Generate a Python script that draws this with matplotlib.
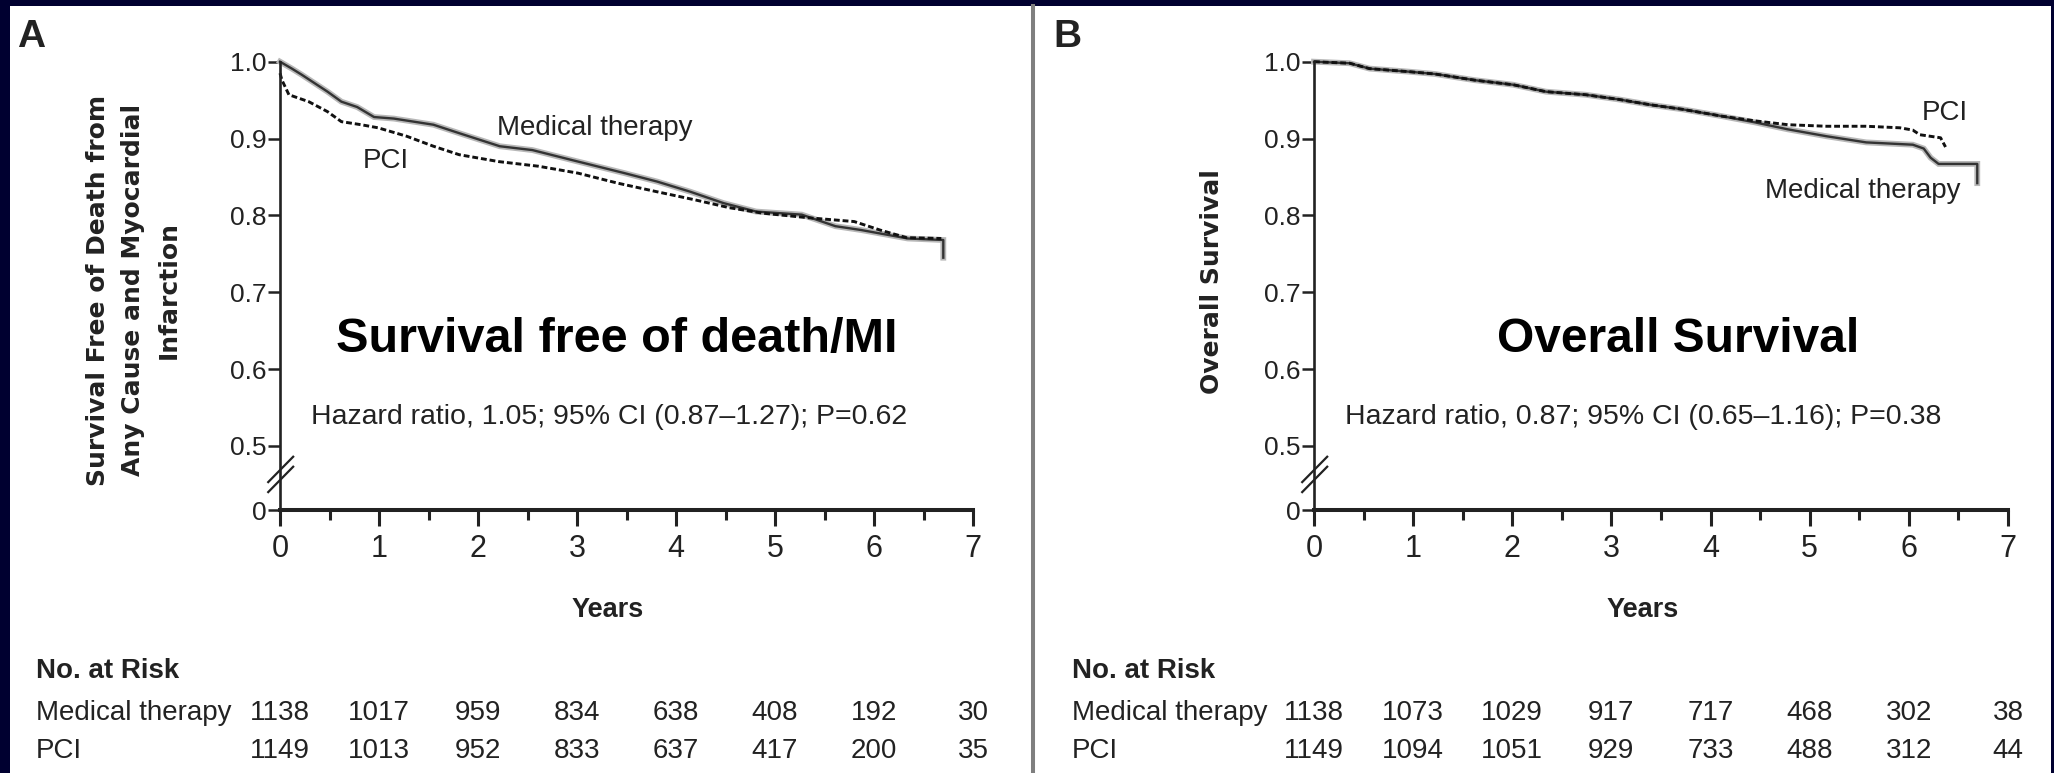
import matplotlib
matplotlib.use('Agg')
import matplotlib.pyplot as plt
import matplotlib.transforms as mtrans
from matplotlib.patches import Rectangle
from matplotlib.lines import Line2D

W, H = 2054, 773
TXT = '#222222'
SANS = ['Liberation Sans', 'DejaVu Sans']

# years on x axis
years = [0, 1, 2, 3, 4, 5, 6, 7]

# Panel A - survival free of death / MI
a_med_t = [0, 0.12, 0.22, 0.35, 0.48, 0.62, 0.78, 0.95, 1.15, 1.35, 1.55, 1.81, 2.22, 2.55,
           2.95, 3.48, 3.81, 4.14, 4.48, 4.81, 5.27, 5.61, 5.87, 6.34, 6.70, 6.70]
a_med_s = [1.0, 0.991, 0.983, 0.972, 0.961, 0.948, 0.941, 0.928, 0.926, 0.922, 0.918, 0.907, 0.890, 0.885,
           0.872, 0.855, 0.844, 0.831, 0.816, 0.805, 0.801, 0.786, 0.781, 0.770, 0.768, 0.745]
a_pci_t = [0, 0.02, 0.09, 0.29, 0.48, 0.62, 0.82, 0.99, 1.28, 1.55, 1.81, 2.21, 2.61, 3.01,
           3.41, 3.80, 4.20, 4.54, 4.87, 5.33, 5.80, 6.06, 6.33, 6.68]
a_pci_s = [0.985, 0.976, 0.957, 0.948, 0.935, 0.922, 0.918, 0.914, 0.903, 0.890, 0.879, 0.870, 0.864, 0.855,
           0.842, 0.831, 0.820, 0.810, 0.803, 0.797, 0.792, 0.781, 0.771, 0.770]

# Panel B - overall survival
b_med_t = [0, 0.36, 0.56, 0.96, 1.22, 1.62, 2.01, 2.34, 2.74, 3.07, 3.39, 3.72, 4.12, 4.45,
           4.78, 5.17, 5.57, 6.04, 6.15, 6.22, 6.30, 6.69, 6.69]
b_med_s = [1.0, 0.998, 0.991, 0.987, 0.984, 0.976, 0.970, 0.961, 0.957, 0.951, 0.944, 0.938, 0.929, 0.921,
           0.912, 0.903, 0.895, 0.892, 0.887, 0.875, 0.867, 0.867, 0.842]
b_pci_t = [0, 0.36, 0.56, 0.96, 1.22, 1.62, 2.01, 2.34, 2.74, 3.07, 3.39, 3.72, 4.12, 4.45,
           4.78, 5.17, 5.57, 5.91, 6.04, 6.11, 6.32, 6.37]
b_pci_s = [1.0, 0.998, 0.991, 0.987, 0.984, 0.976, 0.970, 0.961, 0.957, 0.951, 0.944, 0.938, 0.929, 0.923,
           0.918, 0.916, 0.916, 0.914, 0.911, 0.905, 0.901, 0.889]

# numbers at risk
risk_a_med = [1138, 1017, 959, 834, 638, 408, 192, 30]
risk_a_pci = [1149, 1013, 952, 833, 637, 417, 200, 35]
risk_b_med = [1138, 1073, 1029, 917, 717, 468, 302, 38]
risk_b_pci = [1149, 1094, 1051, 929, 733, 488, 312, 44]

y_ticks = [0.5, 0.6, 0.7, 0.8, 0.9, 1.0]
Y_ZERO = 0.4167   # where the "0" sits below the axis break


def fy(y):
    return 1 - y / H


fig = plt.figure(figsize=(W / 100, H / 100), dpi=100)
fig.patch.set_facecolor('#000030')
fig.patches.append(Rectangle((10 / W, 0), (2051 - 10) / W, 1 - 6 / H, transform=fig.transFigure,
                             facecolor='white', edgecolor='none', zorder=-5))
fig.add_artist(Line2D([1033 / W, 1033 / W], [0, 1 - 6 / H], transform=fig.transFigure,
                      color='#7f7f7f', lw=2.9, zorder=-4))


def panel(left_px, right_px, med_t, med_s, pci_t, pci_s, risk_med, risk_pci,
          letter, letter_x, ylabel, ylab_x, ylab_y, title, title_x, hazard,
          med_lab, pci_lab, table_x):
    ax = fig.add_axes([left_px / W, fy(510), (right_px - left_px) / W, (510 - 61.7) / H])
    ax.set_facecolor('none')
    ax.set_xlim(0, 7)
    ax.set_ylim(Y_ZERO, 1.0)

    ax.plot(med_t, med_s, color='#b8b8b8', lw=4.2, clip_on=False, solid_joinstyle='miter')
    ax.plot(med_t, med_s, color='#333333', lw=1.7, clip_on=False)
    ax.plot(pci_t, pci_s, color='#111111', lw=2.1, ls=(0, (2.0, 1.0)), clip_on=False)

    for s in ['top', 'right']:
        ax.spines[s].set_visible(False)
    ax.spines['left'].set_linewidth(1.9)
    ax.spines['bottom'].set_linewidth(2.9)
    ax.spines['left'].set_color(TXT)
    ax.spines['bottom'].set_color(TXT)

    ax.set_xticks(years)
    ax.set_xticklabels([str(y) for y in years], fontsize=22, family=SANS, color=TXT)
    ax.set_xticks([y + 0.5 for y in years[:-1]], minor=True)
    ax.tick_params(axis='x', which='major', length=11.5, width=2.2, pad=6, color=TXT)
    ax.tick_params(axis='x', which='minor', length=7, width=2.2, color=TXT)
    ax.set_yticks([Y_ZERO] + y_ticks)
    ax.set_yticklabels(['0'] + ['%.1f' % v for v in y_ticks], fontsize=19, family=SANS, color=TXT)
    ax.tick_params(axis='y', length=8.6, width=1.8, pad=1, color=TXT)

    # axis break marks
    yt = ax.get_yaxis_transform()
    ax.plot([-0.017, 0.019], [0.453, 0.486], transform=yt, clip_on=False, color=TXT, lw=1.6)
    ax.plot([-0.017, 0.019], [0.440, 0.473], transform=yt, clip_on=False, color=TXT, lw=1.6)

    ax.text(med_lab[0], med_lab[1], 'Medical therapy', fontsize=20, family=SANS, color=TXT, va='baseline')
    ax.text(pci_lab[0], pci_lab[1], 'PCI', fontsize=20, family=SANS, color=TXT, va='baseline')
    ax.text(0.31, 0.528, hazard, fontsize=20.5, family=SANS, color=TXT, va='baseline')
    ax.text(title_x, 0.6225, title, fontsize=title_fs, family=SANS, weight='bold', color='black',
            ha='center', va='baseline')

    bt = mtrans.blended_transform_factory(ax.transData, fig.transFigure)
    ax.text(3.31, fy(617), 'Years', transform=bt, fontsize=19.5, family=SANS, weight='bold',
            color=TXT, ha='center', va='baseline')
    for x, m, p in zip(years, risk_med, risk_pci):
        ax.text(x, fy(720), str(m), transform=bt, fontsize=20, family=SANS, color=TXT,
                ha='center', va='baseline')
        ax.text(x, fy(758), str(p), transform=bt, fontsize=20, family=SANS, color=TXT,
                ha='center', va='baseline')

    fig.text(table_x / W, fy(678), 'No. at Risk', fontsize=20, family=SANS, weight='bold', color=TXT,
             va='baseline')
    fig.text(table_x / W, fy(720), 'Medical therapy', fontsize=20, family=SANS, color=TXT, va='baseline')
    fig.text(table_x / W, fy(758), 'PCI', fontsize=20, family=SANS, color=TXT, va='baseline')

    fig.text(letter_x / W, fy(47), letter, fontsize=28, family=['Liberation Sans Narrow', 'Liberation Sans'],
             weight='bold', color=TXT, va='baseline')
    fig.text(ylab_x / W, fy(ylab_y), ylabel, fontsize=18, family=['DejaVu Sans'], weight='bold',
             color=TXT, rotation=90, ha='center', va='center', multialignment='center', linespacing=1.6)
    return ax


title_fs = 35
panel(280, 973, a_med_t, a_med_s, a_pci_t, a_pci_s, risk_a_med, risk_a_pci,
      'A', 17, 'Survival Free of Death from\nAny Cause and Myocardial\nInfarction', 133, 290,
      'Survival free of death/MI', 3.4,
      'Hazard ratio, 1.05; 95% CI (0.87\u20131.27); P=0.62',
      (2.19, 0.905), (0.84, 0.862), 36)

title_fs = 34.5
panel(1314, 2008, b_med_t, b_med_s, b_pci_t, b_pci_s, risk_b_med, risk_b_pci,
      'B', 1053, 'Overall Survival', 1212, 282,
      'Overall Survival', 3.67,
      'Hazard ratio, 0.87; 95% CI (0.65\u20131.16); P=0.38',
      (4.55, 0.823), (6.13, 0.924), 1072)

fig.savefig('out.png', dpi=100, facecolor=fig.get_facecolor())
